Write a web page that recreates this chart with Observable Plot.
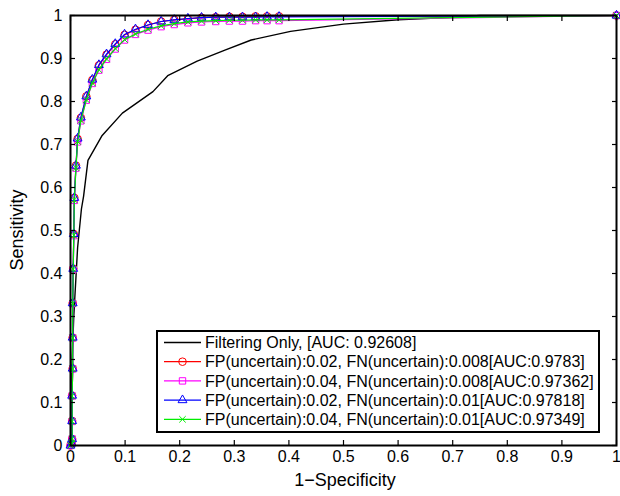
<!DOCTYPE html>
<html>
<head>
<meta charset="utf-8">
<script src="https://cdn.jsdelivr.net/npm/d3@7"></script>
<script src="https://cdn.jsdelivr.net/npm/@observablehq/plot@0.6"></script>
<style>
  html, body { margin: 0; padding: 0; background: #fff; }
  #wrap { position: relative; width: 620px; height: 496px; font-family: "Liberation Sans", Arial, sans-serif; }
  #wrap svg { display: block; }
  #wrap g[aria-label$="tick label"] { font-size: 16px; }
  #legend { position: absolute; left: 0; top: 0; pointer-events: none; }
</style>
</head>
<body>
<div id="wrap"></div>
<script>
// ---- data ----
const xTicks = [0, 0.1, 0.2, 0.3, 0.4, 0.5, 0.6, 0.7, 0.8, 0.9, 1];
const xTickLabels = ["0", "0.1", "0.2", "0.3", "0.4", "0.5", "0.6", "0.7", "0.8", "0.9", "1"];
const yTicks = [0, 0.1, 0.2, 0.3, 0.4, 0.5, 0.6, 0.7, 0.8, 0.9, 1];
const yTickLabels = ["0", "0.1", "0.2", "0.3", "0.4", "0.5", "0.6", "0.7", "0.8", "0.9", "1"];

const seriesNames = [
  "Filtering Only, [AUC: 0.92608]",
  "FP(uncertain):0.02, FN(uncertain):0.008[AUC:0.9783]",
  "FP(uncertain):0.04, FN(uncertain):0.008[AUC:0.97362]",
  "FP(uncertain):0.02, FN(uncertain):0.01[AUC:0.97818]",
  "FP(uncertain):0.04, FN(uncertain):0.01[AUC:0.97349]"
];
const seriesColors = ["#000000", "#ff0000", "#ff00ff", "#0000ff", "#00ee00"];
const seriesSymbols = [null, "circle", "square", "triangle", "times"];

// Filtering only (black, no markers)
const filterX = [0, 0.003, 0.006, 0.013, 0.020, 0.024, 0.032, 0.058, 0.095, 0.151, 0.178, 0.232, 0.284, 0.331, 0.403, 0.50, 0.60, 0.70, 0.75, 1];
const filterY = [0, 0.20, 0.30, 0.46, 0.55, 0.58, 0.663, 0.721, 0.773, 0.823, 0.860, 0.894, 0.920, 0.943, 0.963, 0.980, 0.990, 0.996, 1, 1];

// shared false-positive rates of the four uncertain-class curves
const fprX = [0, 0.002, 0.003, 0.003, 0.003, 0.004, 0.004, 0.004, 0.005, 0.006, 0.007, 0.010, 0.013, 0.019, 0.029, 0.040, 0.052, 0.066, 0.082, 0.099, 0.119, 0.142, 0.166, 0.190, 0.215, 0.240, 0.266, 0.291, 0.315, 0.339, 0.360, 0.382, 1];
const fp02fn008Y = [0, 0.005, 0.015, 0.057, 0.116, 0.179, 0.251, 0.331, 0.411, 0.492, 0.576, 0.651, 0.713, 0.762, 0.812, 0.850, 0.884, 0.909, 0.933, 0.955, 0.967, 0.978, 0.986, 0.990, 0.992, 0.995, 0.996, 0.997, 0.997, 0.998, 0.998, 0.998, 1];
const fp04fn008Y = [0, 0.005, 0.015, 0.056, 0.115, 0.178, 0.250, 0.330, 0.409, 0.488, 0.570, 0.645, 0.706, 0.755, 0.803, 0.842, 0.873, 0.898, 0.922, 0.943, 0.956, 0.966, 0.974, 0.979, 0.983, 0.985, 0.986, 0.987, 0.987, 0.988, 0.988, 0.988, 1];
const fp02fn01Y  = [0, 0.005, 0.015, 0.057, 0.116, 0.179, 0.251, 0.331, 0.411, 0.492, 0.576, 0.651, 0.714, 0.763, 0.812, 0.851, 0.885, 0.910, 0.934, 0.956, 0.968, 0.978, 0.986, 0.990, 0.993, 0.995, 0.996, 0.996, 0.996, 0.996, 0.997, 0.997, 1];
const fp04fn01Y  = [0, 0.005, 0.015, 0.056, 0.115, 0.178, 0.250, 0.330, 0.410, 0.489, 0.571, 0.646, 0.707, 0.756, 0.804, 0.843, 0.874, 0.899, 0.923, 0.944, 0.957, 0.968, 0.976, 0.981, 0.985, 0.987, 0.988, 0.989, 0.989, 0.990, 0.990, 0.990, 1];

// ---- build tables ----
const filterData = filterX.map((x, i) => ({x, y: filterY[i]}));
const curveYs = [fp02fn008Y, fp04fn008Y, fp02fn01Y, fp04fn01Y];
const curves = curveYs.map((ys, k) => ({
  color: seriesColors[k + 1],
  symbol: seriesSymbols[k + 1],
  data: fprX.map((x, i) => ({x, y: ys[i]}))
}));

const font = "Liberation Sans, Arial, sans-serif";
const marks = [
  Plot.line(filterData, {x: "x", y: "y", stroke: seriesColors[0], strokeWidth: 1.4})
];
const symR = {circle: 3.8, square: 3.6, triangle: 3.3, times: 3.0};
for (const c of curves) {
  marks.push(Plot.line(c.data, {x: "x", y: "y", stroke: c.color, strokeWidth: 1.2}));
  marks.push(Plot.dot(c.data, {x: "x", y: "y", symbol: c.symbol, r: symR[c.symbol], stroke: c.color, fill: "none", strokeWidth: 1}));
}
marks.push(
  Plot.axisX(xTicks, {anchor: "bottom", tickSize: -5, tickPadding: 10, tickFormat: (d, i) => xTickLabels[i], label: null, stroke: "black", strokeWidth: 1.2}),
  Plot.axisX(xTicks, {anchor: "top", tickSize: -5, tickFormat: () => "", label: null, stroke: "black", strokeWidth: 1.2}),
  Plot.axisY(yTicks, {anchor: "left", tickSize: -5, tickPadding: 13, tickFormat: (d, i) => yTickLabels[i], label: null, stroke: "black", strokeWidth: 1.2}),
  Plot.axisY(yTicks, {anchor: "right", tickSize: -5, tickFormat: () => "", label: null, stroke: "black", strokeWidth: 1.2}),
  Plot.frame({stroke: "black", strokeWidth: 2})
);

const chart = Plot.plot({
  width: 620,
  height: 496,
  marginLeft: 70,
  marginRight: 4,
  marginTop: 15,
  marginBottom: 51,
  style: {fontFamily: font, fontSize: "16px", color: "black", background: "white"},
  x: {domain: [0, 1]},
  y: {domain: [0, 1]},
  symbol: {type: "identity"},
  marks
});
const wrap = document.getElementById("wrap");
wrap.appendChild(chart);

// ---- axis titles & legend overlay ----
const ov = d3.select(wrap).append("svg")
  .attr("id", "legend").attr("width", 620).attr("height", 496)
  .style("font-family", font);

ov.append("text").attr("x", 345).attr("y", 486).attr("text-anchor", "middle")
  .attr("font-size", 18).text("1\u2212Specificity");
ov.append("text").attr("transform", "translate(23,230) rotate(-90)").attr("text-anchor", "middle")
  .attr("font-size", 18).text("Sensitivity");

const lg = ov.append("g");
lg.append("rect").attr("x", 157).attr("y", 331).attr("width", 442).attr("height", 101)
  .attr("fill", "white").attr("stroke", "black").attr("stroke-width", 2);
const symbolMap = {circle: d3.symbolCircle, square: d3.symbolSquare, triangle: d3.symbolTriangle, times: d3.symbolTimes};
seriesNames.forEach((name, i) => {
  const cy = 342.5 + i * 19.2;
  lg.append("line").attr("x1", 164).attr("x2", 201).attr("y1", cy).attr("y2", cy)
    .attr("stroke", seriesColors[i]).attr("stroke-width", i === 0 ? 1.4 : 1.2);
  if (seriesSymbols[i]) {
    const r = symR[seriesSymbols[i]];
    lg.append("path").attr("transform", `translate(182.5,${cy})`)
      .attr("d", d3.symbol(symbolMap[seriesSymbols[i]], Math.PI * r * r)())
      .attr("fill", "none").attr("stroke", seriesColors[i]).attr("stroke-width", 1);
  }
  lg.append("text").attr("x", 205).attr("y", cy).attr("dy", "0.35em")
    .attr("font-size", 16).text(name);
});
</script>
</body>
</html>
